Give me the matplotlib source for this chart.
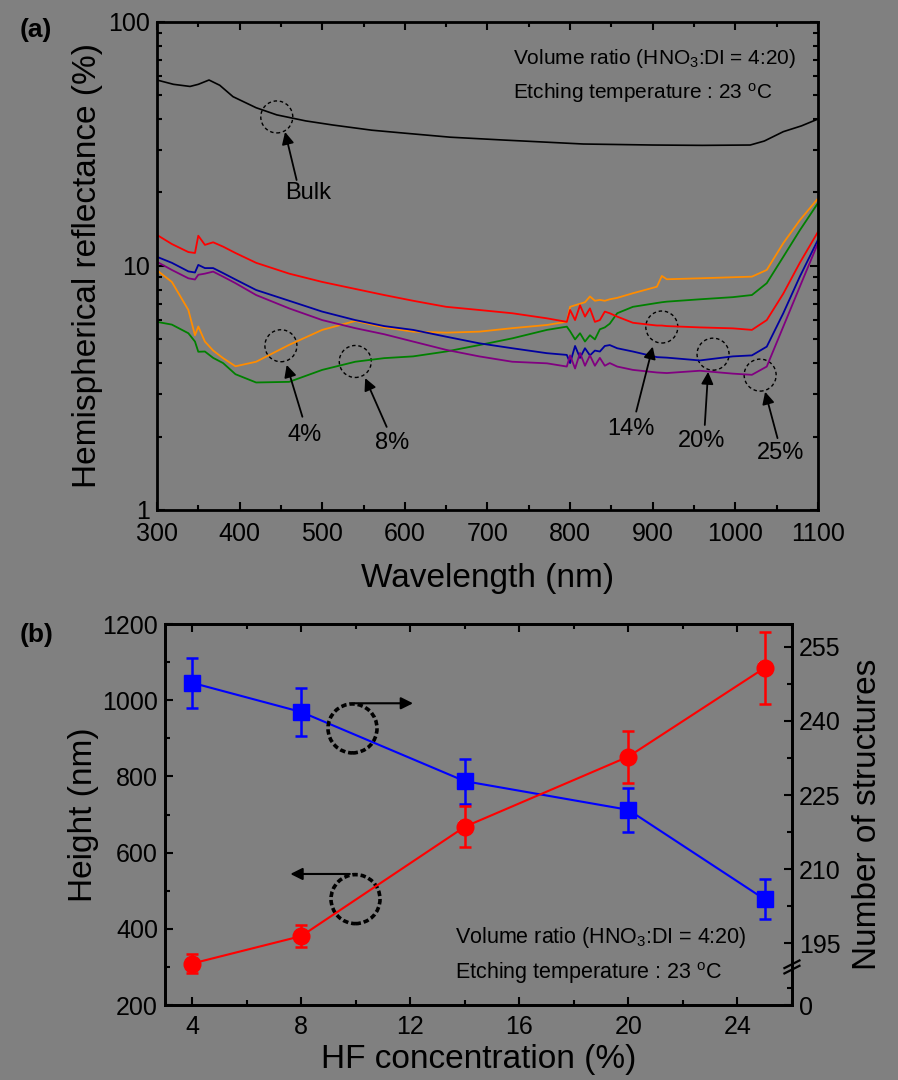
import matplotlib
matplotlib.use('Agg')
import matplotlib.pyplot as plt
from matplotlib.patches import Circle
from matplotlib.transforms import ScaledTranslation
from matplotlib.ticker import MultipleLocator, LogLocator, NullFormatter, FixedLocator

plt.rcParams['font.family'] = ['Liberation Sans', 'DejaVu Sans']
plt.rcParams['mathtext.fontset'] = 'custom'
plt.rcParams['mathtext.rm'] = 'Liberation Sans'
plt.rcParams['mathtext.it'] = 'Liberation Sans'
plt.rcParams['mathtext.default'] = 'regular'

GRAY = '#808080'

# ---- panel (a): hemispherical reflectance spectra ----
bulk_wl = [300, 320, 340, 350, 363, 376, 392, 420, 445, 480, 513, 560, 600, 655,
           720, 816, 900, 960, 1018, 1035, 1058, 1080, 1100]
bulk_r = [57.8, 55.5, 54.4, 55.5, 57.8, 55.0, 49.4, 44.5, 41.6, 39.3, 37.8, 36.0, 35.0, 33.7,
          32.8, 31.6, 31.3, 31.2, 31.3, 32.5, 35.5, 37.5, 40.0]

wl = [300, 318, 338, 346, 350, 358, 368, 380, 395, 420,
      460, 500, 540, 575, 610, 650, 690, 730, 772, 796,
      800, 806, 812, 818, 824, 830, 836, 842, 848, 857,
      876, 905, 911, 917, 957, 997, 1020, 1038, 1058, 1078, 1100]
r_4 = [9.6, 8.6, 6.6, 5.2, 5.65, 4.9, 4.5, 4.19, 3.88, 4.05,
       4.75, 5.47, 5.95, 5.6, 5.38, 5.33, 5.38, 5.56, 5.73, 5.91,
       6.8, 6.9, 7.0, 7.1, 7.5, 7.2, 7.26, 7.2, 7.3, 7.4,
       7.73, 8.22, 9.1, 8.82, 8.9, 8.99, 9.04, 9.63, 12.4, 15.4, 18.9]
r_8 = [5.9, 5.75, 5.3, 4.9, 4.45, 4.46, 4.2, 4.0, 3.6, 3.33,
       3.35, 3.75, 4.05, 4.19, 4.26, 4.46, 4.74, 5.05, 5.47, 5.64,
       5.4, 5.0, 5.3, 4.9, 5.2, 5.0, 5.5, 5.6, 5.8, 6.4,
       6.8, 7.05, 7.1, 7.14, 7.3, 7.45, 7.6, 8.5, 10.9, 14.0, 18.1]
r_14 = [13.4, 12.3, 11.4, 11.3, 13.3, 12.2, 12.5, 12.0, 11.3, 10.3,
        9.3, 8.6, 8.05, 7.6, 7.2, 6.8, 6.6, 6.4, 6.1, 5.9,
        6.6, 6.0, 6.9, 6.2, 6.7, 5.9, 6.0, 6.5, 6.4, 6.2,
        5.85, 5.7, 5.7, 5.67, 5.6, 5.55, 5.47, 6.0, 7.7, 10.3, 13.8]
r_20 = [10.9, 10.3, 9.5, 9.4, 10.1, 9.8, 9.8, 9.35, 8.8, 7.97,
        7.2, 6.5, 6.0, 5.67, 5.47, 5.13, 4.82, 4.6, 4.39, 4.32,
        4.0, 4.7, 4.2, 4.6, 4.3, 4.5, 4.46, 4.7, 4.74, 4.6,
        4.46, 4.23, 4.22, 4.21, 4.1, 4.26, 4.3, 4.67, 6.4, 9.04, 12.8]
r_25 = [10.4, 9.63, 8.9, 8.8, 9.2, 9.3, 9.48, 9.04, 8.5, 7.6,
        6.7, 6.0, 5.56, 5.25, 4.9, 4.53, 4.26, 4.05, 3.99, 3.87,
        4.3, 3.8, 4.4, 3.9, 4.3, 3.9, 4.2, 3.9, 4.0, 3.87,
        3.75, 3.66, 3.65, 3.64, 3.72, 3.62, 3.58, 3.87, 5.64, 8.22, 12.4]

spectra = [(r_4, '#ff8c00'), (r_8, '#008000'), (r_14, '#ff0000'),
           (r_20, '#0000a0'), (r_25, '#800080')]

# label, circle centre, arrow tail, arrow head, text position (data coords)
notes_a = [
    ('Bulk', (445, 40.8), (469, 22.5), (455, 35.4), (483, 19.9)),
    ('4%', (450, 4.71), (476, 2.41), (457, 3.93), (479, 2.03)),
    ('8%', (540, 4.06), (578, 2.19), (552, 3.47), (585, 1.89)),
    ('14%', (911, 5.62), (880, 2.53), (900, 4.67), (874, 2.15)),
    ('20%', (973, 4.35), (963, 2.23), (967, 3.68), (959, 1.91)),
    ('25%', (1030, 3.57), (1051, 1.97), (1036, 3.05), (1055, 1.71)),
]

# ---- panel (b): height and number of structures ----
hf = [4, 8, 14, 20, 25]
height = [309, 381, 668, 852, 1085]
height_err = [25, 29, 54, 68, 95]
number = [247.7, 241.8, 227.8, 222.0, 203.9]
number_err = [5.0, 4.85, 4.55, 4.45, 4.05]
right_ticks = [195, 210, 225, 240, 255]

fig = plt.figure(figsize=(8.98, 10.8), dpi=100, facecolor=GRAY)

ax = fig.add_axes([0.1748, 0.5278, 0.7361, 0.4519], facecolor=GRAY)
ax.plot(bulk_wl, bulk_r, color='black', lw=1.2)
for vals, col in spectra:
    ax.plot(wl, vals, color=col, lw=1.3)
ax.set_yscale('log')
ax.set_xlim(300, 1100)
ax.set_ylim(1, 100)
ax.xaxis.set_major_locator(MultipleLocator(100))
ax.xaxis.set_minor_locator(MultipleLocator(50))
ax.set_yticks([1, 10, 100])
ax.set_yticklabels(['1', '10', '100'])
ax.yaxis.set_minor_locator(LogLocator(base=10, subs=range(2, 10)))
ax.yaxis.set_minor_formatter(NullFormatter())
ax.set_xlabel('Wavelength (nm)', fontsize=24, labelpad=12)
ax.set_ylabel('Hemispherical reflectance (%)', fontsize=24, labelpad=4)

for label, cen, tail, head, txt in notes_a:
    circ = Circle((0, 0), 0.16, fill=False, ec='black', lw=1.0, ls=(0, (2.5, 2)),
                  transform=fig.dpi_scale_trans + ScaledTranslation(cen[0], cen[1], ax.transData))
    ax.add_patch(circ)
    ax.annotate('', xy=head, xytext=tail,
                arrowprops=dict(arrowstyle='-|>', color='black', lw=1.3,
                                mutation_scale=18, shrinkA=0, shrinkB=0))
    ax.text(txt[0], txt[1], label, fontsize=17, ha='center', va='center')

ax.text(0.539, 0.926, 'Volume ratio (HNO$_3$:DI = 4:20)', transform=ax.transAxes,
        fontsize=15, va='center')
ax.text(0.539, 0.855, 'Etching temperature : 23 $^o$C', transform=ax.transAxes,
        fontsize=15, va='center')
fig.text(0.022, 0.972, '(a)', fontsize=19, fontweight='bold', va='center')

# panel (b)
bx = fig.add_axes([0.1837, 0.0694, 0.6982, 0.3528], facecolor=GRAY)
bx2 = bx.twinx()
bx.set_zorder(bx2.get_zorder() + 1)
bx.patch.set_visible(False)

bx2.errorbar(hf, number, yerr=number_err, color='#0000ff', marker='s', ms=11, lw=1.5,
             elinewidth=1.8, capsize=4, capthick=1.8)
bx.errorbar(hf, height, yerr=height_err, color='#ff0000', marker='o', ms=12, lw=1.5,
            elinewidth=1.8, capsize=4, capthick=1.8)
shift = ScaledTranslation(-2.5 / 72, 2.5 / 72, fig.dpi_scale_trans)
bx.plot(hf, height, 'o', color='#ffb0b0', ms=5, mec='none', transform=bx.transData + shift)
bx.plot(hf, height, 'o', color='white', ms=2.5, mec='none', transform=bx.transData + shift)

bx.set_xlim(3, 26)
bx.set_ylim(200, 1200)
bx.xaxis.set_major_locator(MultipleLocator(4))
bx.xaxis.set_minor_locator(MultipleLocator(2))
bx.yaxis.set_major_locator(MultipleLocator(200))
bx.yaxis.set_minor_locator(MultipleLocator(100))
bx.set_xlabel('HF concentration (%)', fontsize=24, labelpad=4)
bx.set_ylabel('Height (nm)', fontsize=24, labelpad=2)

bot = 182.5
bx2.set_ylim(bot, 259.6)
bx2.yaxis.set_major_locator(FixedLocator([bot] + right_ticks))
bx2.set_yticklabels(['0'] + [str(t) for t in right_ticks])
bx2.yaxis.set_minor_locator(FixedLocator([186, 202.5, 217.5, 232.5, 247.5]))
bx2.set_ylabel('Number of structures', fontsize=24, labelpad=8)

# break mark on the right axis
for dy in (0.0, 0.014):
    bx2.plot([0.988, 1.012], [0.083 + dy, 0.103 + dy], transform=bx2.transAxes,
             color='black', lw=1.6, clip_on=False, zorder=5)

for cen, r in [((9.88, 926), 0.245), ((9.99, 478), 0.245)]:
    circ = Circle((0, 0), r, fill=False, ec='black', lw=2.6, ls=(0, (1.5, 0.8)),
                  transform=fig.dpi_scale_trans + ScaledTranslation(cen[0], cen[1], bx.transData))
    bx.add_patch(circ)
bx.annotate('', xy=(12.1, 992), xytext=(9.96, 992),
            arrowprops=dict(arrowstyle='-|>', color='black', lw=1.5,
                            mutation_scale=18, shrinkA=0, shrinkB=0))
bx.annotate('', xy=(7.6, 544), xytext=(9.78, 544),
            arrowprops=dict(arrowstyle='-|>', color='black', lw=1.5,
                            mutation_scale=18, shrinkA=0, shrinkB=0))
bx.text(0.4625, 0.178, 'Volume ratio (HNO$_3$:DI = 4:20)', transform=bx.transAxes,
        fontsize=15.5, va='center')
bx.text(0.4625, 0.084, 'Etching temperature : 23 $^o$C', transform=bx.transAxes,
        fontsize=15.5, va='center')
fig.text(0.022, 0.412, '(b)', fontsize=19, fontweight='bold', va='center')

for a in (ax, bx, bx2):
    for s in a.spines.values():
        s.set_linewidth(2)
    a.tick_params(which='both', direction='in', labelsize=18, width=1.5, pad=5)
    a.tick_params(which='major', length=6)
    a.tick_params(which='minor', length=3.5)
ax.tick_params(which='both', top=True, right=True)
ax.tick_params(axis='x', pad=9)
bx.tick_params(axis='x', pad=7)
bx.tick_params(which='both', top=True)

fig.savefig('out.png', dpi=100, facecolor=GRAY)
